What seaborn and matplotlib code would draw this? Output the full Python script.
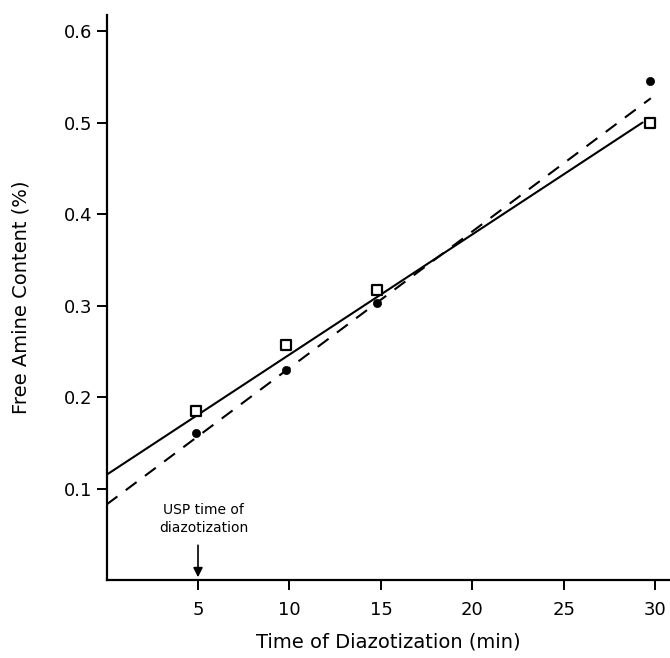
import matplotlib
matplotlib.use("Agg")
import matplotlib.pyplot as plt
import seaborn as sns
import pandas as pd

sns.set_style("ticks")
plt.rcParams['font.family'] = ['DejaVu Sans']
plt.rcParams['text.color'] = 'black'
plt.rcParams['axes.labelcolor'] = 'black'

time_sq = [4.9, 9.8, 14.8, 29.7]
amine_sq = [0.185, 0.257, 0.317, 0.500]
time_dot = [4.9, 9.8, 14.8, 29.7]
amine_dot = [0.161, 0.230, 0.303, 0.545]

# fitted lines (end points)
fit_x_solid = [0.0, 29.3]
fit_y_solid = [0.115, 0.500]
fit_x_dash = [0.0, 29.75]
fit_y_dash = [0.0825, 0.5265]

x_ticks = [5, 10, 15, 20, 25, 30]
y_ticks = [0.1, 0.2, 0.3, 0.4, 0.5, 0.6]

df_sq = pd.DataFrame({'time': time_sq, 'amine': amine_sq})
df_dot = pd.DataFrame({'time': time_dot, 'amine': amine_dot})
df_solid = pd.DataFrame({'time': fit_x_solid, 'amine': fit_y_solid})
df_dash = pd.DataFrame({'time': fit_x_dash, 'amine': fit_y_dash})

fig = plt.figure(figsize=(6.7, 6.58), dpi=100)
ax = fig.add_axes([0.159, 0.1185, 0.841, 0.858])

sns.lineplot(data=df_solid, x='time', y='amine', color='black', lw=1.5, ax=ax)
sns.lineplot(data=df_dash, x='time', y='amine', color='black', lw=1.5,
             linestyle=(0, (6.5, 5)), ax=ax)
sns.scatterplot(data=df_sq, x='time', y='amine', marker='s', s=55,
                facecolor='white', edgecolor='black', linewidth=1.6, zorder=5, ax=ax)
sns.scatterplot(data=df_dot, x='time', y='amine', marker='o', s=35,
                color='black', edgecolor='black', zorder=5, ax=ax)

ax.set_xlim(0, 30.8)
ax.set_ylim(0, 0.617)
ax.set_xticks(x_ticks)
ax.set_yticks(y_ticks)
ax.set_xticklabels([str(t) for t in x_ticks])
ax.set_yticklabels([f"{t:.1f}" for t in y_ticks])
ax.tick_params(direction='out', length=7, width=1.4, labelsize=13, colors='black')
ax.tick_params(axis='x', pad=8)
for sp in ['left', 'bottom']:
    ax.spines[sp].set_linewidth(1.6)
    ax.spines[sp].set_color('black')
sns.despine(ax=ax)

ax.set_xlabel("Time of Diazotization (min)", fontsize=14, labelpad=10)
ax.set_ylabel("Free Amine Content (%)", fontsize=14, labelpad=24)

ax.text(5.3, 0.067, "USP time of\ndiazotization", ha='center', va='center',
        fontsize=10, linespacing=1.4, color='black')
ax.annotate("", xy=(5, 0.003), xytext=(5, 0.038),
            arrowprops=dict(arrowstyle='-|>', color='black', lw=1.2,
                            mutation_scale=14, shrinkA=0, shrinkB=0))

fig.savefig("out.png", dpi=100)
